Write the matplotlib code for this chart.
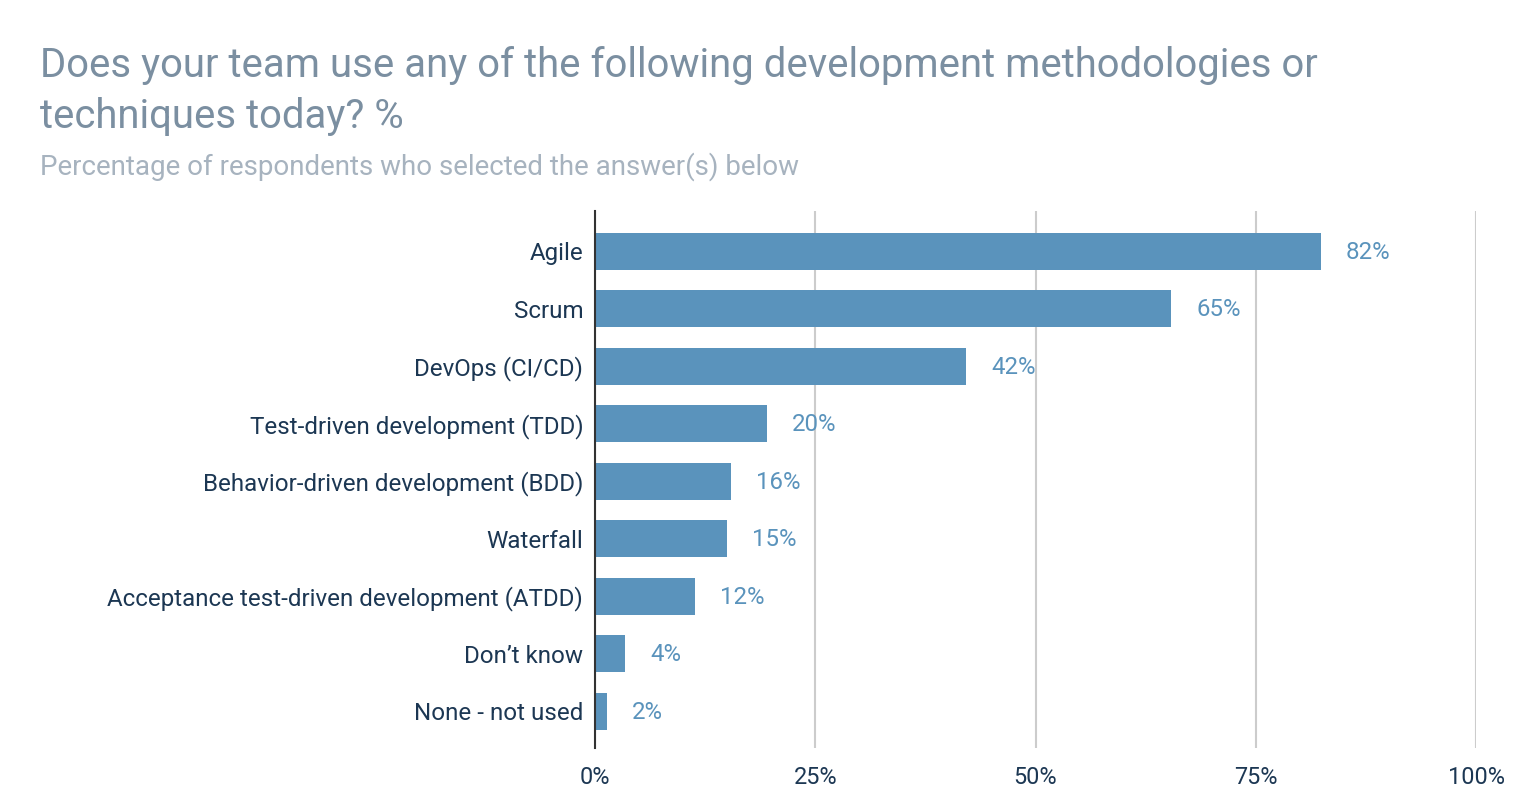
import matplotlib.pyplot as plt

plt.rcParams['font.family'] = ['Roboto', 'DejaVu Sans']

categories = ["Agile", "Scrum", "DevOps (CI/CD)", "Test-driven development (TDD)",
              "Behavior-driven development (BDD)", "Waterfall",
              "Acceptance test-driven development (ATDD)", "Don\u2019t know", "None - not used"]
values = [82.4, 65.4, 42.1, 19.5, 15.4, 15.0, 11.4, 3.4, 1.4]
value_labels = ["82%", "65%", "42%", "20%", "16%", "15%", "12%", "4%", "2%"]
xticks = [0, 25, 50, 75, 100]
xtick_labels = ["0%", "25%", "50%", "75%", "100%"]

bar_color = "#5a93bc"
label_color = "#1c3753"

fig = plt.figure(figsize=(15.24, 8), dpi=100)
ax = fig.add_axes([595 / 1524, 1 - 748 / 800, (1476 - 595) / 1524, (748 - 211) / 800])

y = list(range(len(categories)))
ax.barh(y, values, height=0.645, color=bar_color, zorder=3)
for yi, v, lab in zip(y, values, value_labels):
    ax.annotate(lab, (v, yi), xytext=(18, -0.8), textcoords="offset points",
                va="center", ha="left", fontsize=17.3, color=bar_color)

ax.set_xlim(0, 100)
ax.set_ylim(8.64, -0.70)
ax.set_yticks(y)
ax.set_yticklabels(categories, fontsize=17.4, color=label_color)
ax.set_xticks(xticks)
ax.set_xticklabels(xtick_labels, fontsize=16.9, color=label_color)
ax.tick_params(axis="both", length=0)
ax.tick_params(axis="y", pad=8.5)
ax.tick_params(axis="x", pad=13)
ax.grid(axis="x", color="#cccccc", linewidth=1.5, zorder=0)
for s in ["top", "right", "bottom"]:
    ax.spines[s].set_visible(False)
ax.spines["left"].set_color("#333333")
ax.spines["left"].set_linewidth(1.5)
ax.spines["left"].set_zorder(4)

fig.text(40 / 1524, 1 - 46 / 800, "Does your team use any of the following development methodologies or\ntechniques today? %",
         fontsize=28.9, color="#7b8fa1", va="top", ha="left", linespacing=1.38)
fig.text(40 / 1524, 1 - 167 / 800, "Percentage of respondents who selected the answer(s) below",
         fontsize=20, color="#a7b3bf", va="center", ha="left")

fig.savefig("out.png", dpi=100)
